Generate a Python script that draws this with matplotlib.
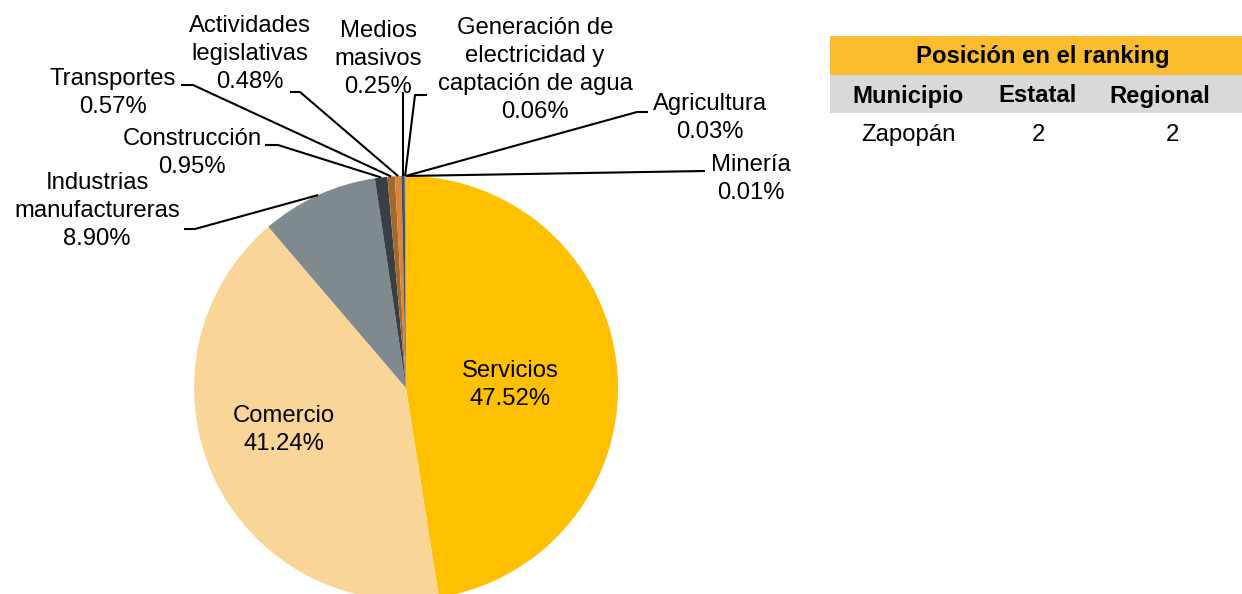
import numpy as np
import matplotlib.pyplot as plt
from matplotlib.patches import Rectangle

plt.rcParams['font.family'] = ['Liberation Sans', 'DejaVu Sans']

sectores = ['Servicios', 'Comercio', 'Industrias\nmanufactureras', 'Construcción',
            'Transportes', 'Actividades\nlegislativas', 'Medios\nmasivos',
            'Generación de\nelectricidad y\ncaptación de agua', 'Agricultura', 'Minería']
porcentajes = [47.52, 41.24, 8.90, 0.95, 0.57, 0.48, 0.25, 0.06, 0.03, 0.01]
colores = ['#FFC000', '#F9D597', '#7F8A8F', '#3A3F45', '#A06A2A', '#D9853B',
           '#4A4F55', '#6E6E6E', '#9E9E9E', '#C0C0C0']

ranking_titulo = 'Posición en el ranking'
ranking_cols = ['Municipio', 'Estatal', 'Regional']
ranking_vals = ['Zapopán', '2', '2']

W, H = 1242, 594
FS = 17.2
LS = 1.36
DY = 2  # small downward nudge for multi-line labels


def Y(y):
    return H - y


fig = plt.figure(figsize=(W / 100, H / 100), dpi=100)
ax = fig.add_axes([0, 0, 1, 1])

cx, cy, r = 406, Y(388), 212
wedges, _ = ax.pie(porcentajes, colors=colores, startangle=90, counterclock=False,
                   center=(cx, cy), radius=r, wedgeprops=dict(linewidth=0))
ax.set_xlim(0, W)
ax.set_ylim(0, H)
ax.set_aspect('equal')
ax.axis('off')

# labels inside the two big slices
inner_pos = {0: (510, 383), 1: (284, 428)}
for i, (tx, ty) in inner_pos.items():
    ax.text(tx, Y(ty + DY), f'{sectores[i]}\n{porcentajes[i]:.2f}%', ha='center', va='center',
            fontsize=FS, linespacing=LS)

# outside labels: text centre, then leader polyline (outer end, elbow)
outer = {
    2: ((97, 209), [(184, 229), (195, 229)]),
    3: ((192, 151), [(265, 145), (278, 145)]),
    4: ((113, 91), [(181, 85), (193, 85)]),
    5: ((250, 52), [(290, 92), (300, 92)]),
    6: ((378, 57), [(403, 92)]),
    7: ((535, 68), [(427, 95), (415, 95)]),
    8: ((710, 116), [(648, 112), (637, 112)]),
    9: ((751, 177), [(705, 171)]),
}
for i, ((tx, ty), pts) in outer.items():
    ax.text(tx, Y(ty + DY), f'{sectores[i]}\n{porcentajes[i]:.2f}%', ha='center', va='center',
            fontsize=FS, linespacing=LS)
    w = wedges[i]
    th = np.deg2rad((w.theta1 + w.theta2) / 2)
    ex, ey = cx + r * np.cos(th), cy + r * np.sin(th)
    xs = [p[0] for p in pts] + [ex]
    ys = [Y(p[1]) for p in pts] + [ey]
    ax.plot(xs, ys, color='black', lw=1.5, solid_capstyle='butt')

# ranking table
ax.add_patch(Rectangle((830, Y(75)), W - 830, 39, color='#FBBC2D', lw=0))
ax.add_patch(Rectangle((830, Y(113)), W - 830, 38, color='#D9D9D9', lw=0))
ax.text(1043, Y(56), ranking_titulo, ha='center', va='center', fontsize=FS, fontweight='bold')
col_x = [908, 1038, 1160]
for x, c in zip(col_x, ranking_cols):
    ax.text(x, Y(96), c, ha='center', va='center', fontsize=FS, fontweight='bold')
val_x = [908, 1038, 1172]
for x, v in zip(val_x, ranking_vals):
    ax.text(x, Y(135), v, ha='center', va='center', fontsize=FS)

fig.savefig('out.png', dpi=100)
